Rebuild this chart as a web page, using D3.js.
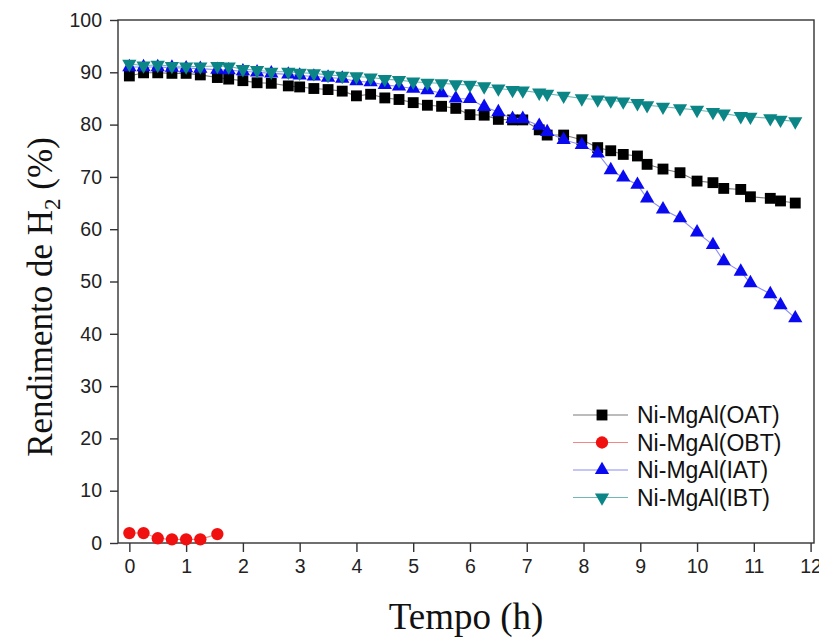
<!DOCTYPE html>
<html>
<head>
<meta charset="utf-8">
<script src="https://cdn.jsdelivr.net/npm/d3@7"></script>
<style>
  html, body { margin: 0; padding: 0; background: #fff; }
  svg { display: block; }
</style>
</head>
<body>
<svg id="chart" width="819" height="641"></svg>
<script>
// Reaction time (h) shared by the long runs
const timeLong = [0, 0.25, 0.5, 0.75, 1.0, 1.25, 1.55, 1.75, 2.0, 2.25, 2.5, 2.8, 3.0, 3.25, 3.5, 3.75,
  4.0, 4.25, 4.5, 4.75, 5.0, 5.25, 5.5, 5.75, 6.0, 6.25, 6.5, 6.75, 6.93, 7.22, 7.36, 7.65,
  7.97, 8.25, 8.48, 8.7, 8.95, 9.12, 9.4, 9.7, 10.0, 10.28, 10.47, 10.77, 10.94, 11.29, 11.47, 11.73];
// Short run (OBT)
const timeShort = [0, 0.25, 0.5, 0.75, 1.0, 1.25, 1.55];

// H2 yield (%)
const yieldOAT = [89.3, 89.9, 89.9, 89.8, 89.8, 89.5, 89.0, 88.7, 88.4, 88.0, 87.9, 87.4, 87.2, 86.9, 86.7, 86.4,
  85.5, 85.8, 85.1, 84.8, 84.2, 83.7, 83.5, 83.1, 81.9, 81.8, 81.0, 80.9, 80.9, 79.0, 78.0, 78.0,
  77.1, 75.6, 75.0, 74.3, 74.0, 72.4, 71.5, 70.8, 69.2, 68.9, 67.8, 67.6, 66.2, 65.9, 65.4, 65.0];
const yieldOBT = [1.9, 1.9, 0.9, 0.7, 0.7, 0.7, 1.7];
const yieldIAT = [91.0, 91.0, 91.0, 90.9, 90.8, 90.7, 90.5, 90.4, 90.2, 90.0, 89.8, 89.6, 89.4, 89.2, 89.0, 88.8,
  88.3, 88.1, 87.6, 87.3, 86.9, 86.6, 86.0, 85.0, 84.9, 83.4, 82.4, 81.1, 81.1, 79.8, 78.6, 77.1,
  76.1, 74.5, 71.3, 69.9, 68.5, 65.9, 63.8, 62.1, 59.4, 57.0, 53.9, 51.9, 49.7, 47.6, 45.5, 43.0];
const yieldIBT = [91.6, 91.3, 91.4, 91.2, 91.1, 91.1, 91.2, 91.1, 90.6, 90.4, 90.1, 90.1, 89.9, 89.8, 89.5, 89.3,
  89.2, 89.0, 88.7, 88.5, 88.2, 88.0, 87.9, 87.7, 87.6, 87.3, 86.9, 86.6, 86.5, 86.1, 85.9, 85.5,
  85.0, 84.8, 84.6, 84.4, 84.1, 83.7, 83.4, 83.1, 82.8, 82.4, 82.1, 81.6, 81.5, 81.2, 80.9, 80.6];

const seriesNames = ["Ni-MgAl(OAT)", "Ni-MgAl(OBT)", "Ni-MgAl(IAT)", "Ni-MgAl(IBT)"];
const xTickValues = [0, 1, 2, 3, 4, 5, 6, 7, 8, 9, 10, 11, 12];
const yTickValues = [0, 10, 20, 30, 40, 50, 60, 70, 80, 90, 100];

const series = [
  { name: seriesNames[0], t: timeLong, v: yieldOAT, fill: "#000000", line: "#7a7a7a", shape: "square" },
  { name: seriesNames[1], t: timeShort, v: yieldOBT, fill: "#f01010", line: "#f08888", shape: "circle" },
  { name: seriesNames[2], t: timeLong, v: yieldIAT, fill: "#0a0af0", line: "#8c8cf0", shape: "up" },
  { name: seriesNames[3], t: timeLong, v: yieldIBT, fill: "#0b8585", line: "#6fb8b8", shape: "down" }
];

const svg = d3.select("#chart");
const plot = { left: 118, right: 814, top: 20, bottom: 543 };

const x = d3.scaleLinear().domain([-0.2, 12.06]).range([plot.left, plot.right]);
const y = d3.scaleLinear().domain([0, 100]).range([plot.bottom, plot.top]);

const axisColor = "#333";
const tickFont = "Liberation Sans, Arial, sans-serif";

// Frame
svg.append("rect")
  .attr("x", plot.left).attr("y", plot.top)
  .attr("width", plot.right - plot.left).attr("height", plot.bottom - plot.top)
  .attr("fill", "none").attr("stroke", axisColor).attr("stroke-width", 1.4);

// Bottom axis: major + minor ticks
const xAxis = svg.append("g").attr("transform", `translate(0,${plot.bottom})`);
xAxis.call(d3.axisBottom(x).tickValues(d3.range(0.5, 12, 1)).tickSize(5).tickFormat(""));
xAxis.call(d3.axisBottom(x).tickValues(xTickValues).tickSize(9).tickPadding(7).tickFormat(d3.format("d")));
xAxis.selectAll(".domain").remove();
xAxis.selectAll("line").attr("stroke", axisColor).attr("stroke-width", 1.4);
xAxis.selectAll("text").attr("font-family", tickFont).attr("font-size", 19.5).attr("fill", "#222");

// Left axis: major + minor ticks
const yAxis = svg.append("g").attr("transform", `translate(${plot.left},0)`);
yAxis.call(d3.axisLeft(y).tickValues(d3.range(5, 100, 10)).tickSize(5).tickFormat(""));
yAxis.call(d3.axisLeft(y).tickValues(yTickValues).tickSize(8).tickPadding(8).tickFormat(d3.format("d")));
yAxis.selectAll(".domain").remove();
yAxis.selectAll("line").attr("stroke", axisColor).attr("stroke-width", 1.4);
yAxis.selectAll("text").attr("font-family", tickFont).attr("font-size", 19.5).attr("fill", "#222");

// Axis titles
svg.append("text")
  .attr("x", 466).attr("y", 629)
  .attr("text-anchor", "middle")
  .attr("font-family", "Liberation Serif, Times New Roman, serif")
  .attr("font-size", 37).attr("fill", "#111")
  .text("Tempo (h)");

const yTitle = svg.append("text")
  .attr("transform", "translate(52,297) rotate(-90)")
  .attr("text-anchor", "middle")
  .attr("font-family", "Liberation Serif, Times New Roman, serif")
  .attr("font-size", 35).attr("fill", "#111");
yTitle.append("tspan").text("Rendimento de H");
yTitle.append("tspan").attr("font-size", 23).attr("dy", 8).text("2");
yTitle.append("tspan").attr("dy", -8).text(" (%)");

// Marker shapes
function symbolPath(shape) {
  if (shape === "square") return d3.symbol(d3.symbolSquare, 118)();
  if (shape === "circle") return d3.symbol(d3.symbolCircle, 120)();
  return d3.symbol(d3.symbolTriangle, 88)();
}
function symbolRotate(shape) { return shape === "down" ? " rotate(180)" : ""; }

const line = d3.line().x(d => x(d[0])).y(d => y(d[1]));

// Connecting lines, then markers
series.forEach(s => {
  const pts = s.t.map((t, i) => [t, s.v[i]]);
  const g = svg.append("g");
  g.append("path").datum(pts)
    .attr("d", line).attr("fill", "none")
    .attr("stroke", s.line).attr("stroke-width", 1.1);
  g.selectAll("path.m").data(pts).join("path")
    .attr("class", "m")
    .attr("d", symbolPath(s.shape))
    .attr("transform", d => `translate(${x(d[0])},${y(d[1])})${symbolRotate(s.shape)}`)
    .attr("fill", s.fill);
});

// Legend
const legend = svg.append("g").attr("transform", "translate(573,415)");
series.forEach((s, i) => {
  const row = legend.append("g").attr("transform", `translate(0,${i * 27.5})`);
  row.append("line").attr("x1", 0).attr("x2", 55).attr("y1", 0).attr("y2", 0)
    .attr("stroke", s.line).attr("stroke-width", 1.1);
  row.append("path")
    .attr("d", symbolPath(s.shape))
    .attr("transform", `translate(29,0)${symbolRotate(s.shape)}`)
    .attr("fill", s.fill);
  row.append("text").attr("x", 64).attr("y", 0).attr("dy", "0.35em")
    .attr("font-family", tickFont).attr("font-size", 23).attr("fill", "#111")
    .text(s.name);
});
</script>
</body>
</html>
